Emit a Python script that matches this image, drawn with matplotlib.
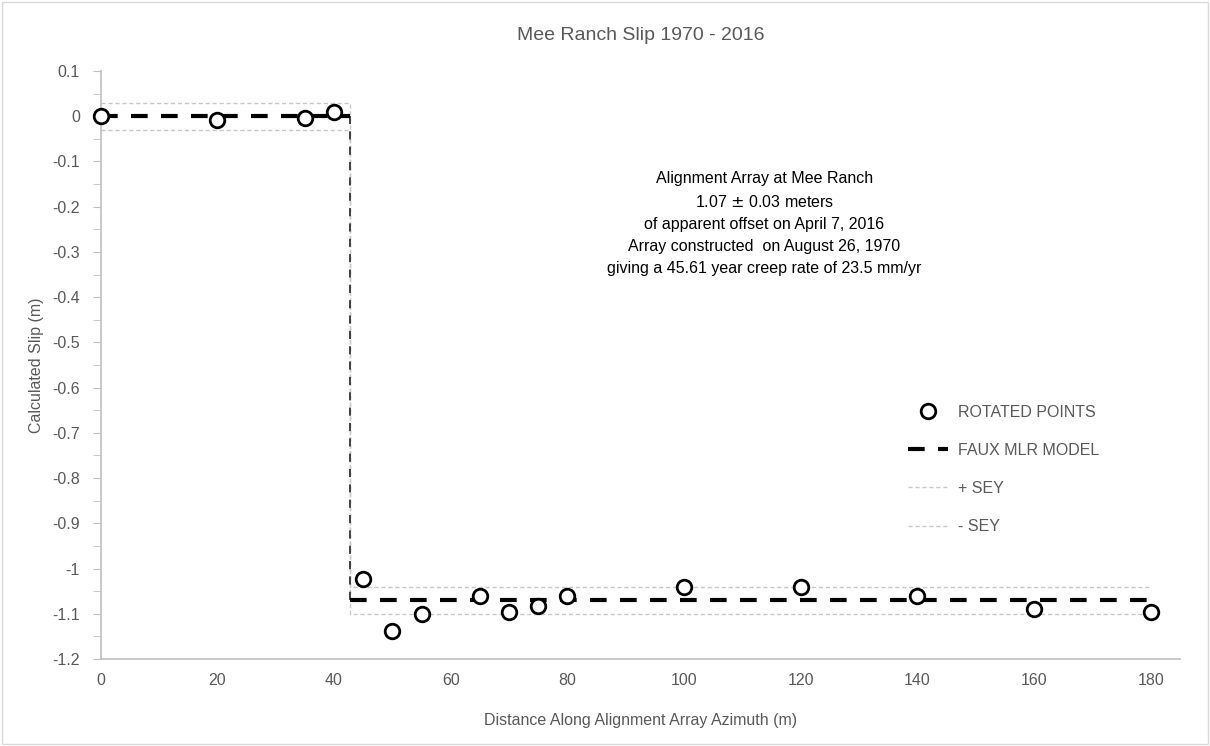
import matplotlib
matplotlib.use("Agg")
import matplotlib.pyplot as plt
from matplotlib.ticker import MultipleLocator, FuncFormatter
from matplotlib.patches import Rectangle

plt.rcParams['font.family'] = ['Liberation Sans Narrow', 'Liberation Sans', 'DejaVu Sans']

# rotated survey points
dist = [0, 20, 35, 40, 45, 50, 55, 65, 70, 75, 80, 100, 120, 140, 160, 180]
slip = [0.0, -0.009, -0.003, 0.009, -1.022, -1.139, -1.10, -1.06, -1.095, -1.082,
        -1.061, -1.04, -1.04, -1.061, -1.09, -1.095]

# faux MLR step model and +/- SEY
step_x = 42.7
offset = -1.07
sey = 0.03
model_x = [0, step_x, step_x, 180]
sey_hi = [sey, sey, offset + sey, offset + sey]
sey_lo = [-sey, -sey, offset - sey, offset - sey]


def fmt(v, p):
    v = round(v, 2)
    if v == 0:
        return '0'
    return '%g' % v


grey = '#595959'
fig = plt.figure(figsize=(12.1, 7.46), dpi=100)
ax = fig.add_axes([0.0832, 0.1166, 0.892, 0.7882])

ax.plot(model_x, sey_hi, color='#c8c8c8', lw=1, ls=(0, (3, 2)), label='+ SEY', zorder=1)
ax.plot(model_x, sey_lo, color='#c8c8c8', lw=1, ls=(0, (3, 2)), label='- SEY', zorder=1)
# vertical part of the step draws thin
ax.plot([step_x, step_x], [0, offset], color='#333333', lw=1.3, ls=(0, (4.5, 4)), zorder=2)
ax.plot([0, step_x], [0, 0], color='black', lw=3, ls=(0, (4, 3.2)), zorder=2)
ax.plot([step_x, 180], [offset, offset], color='black', lw=3, ls=(0, (4, 3.2)),
        label='FAUX MLR MODEL', zorder=2)
ax.plot(dist, slip, 'o', mfc='white', mec='black', ms=10.5, mew=2,
        label='ROTATED POINTS', zorder=3, clip_on=False)

ax.set_xlim(0, 185)
ax.set_ylim(-1.2, 0.1)
ax.xaxis.set_major_locator(MultipleLocator(20))
ax.yaxis.set_major_locator(MultipleLocator(0.1))
ax.yaxis.set_minor_locator(MultipleLocator(0.05))
ax.yaxis.set_major_formatter(FuncFormatter(fmt))
ax.tick_params(axis='x', length=0, pad=10, labelsize=11.5, labelcolor=grey)
ax.tick_params(axis='y', which='both', length=6, color='#bfbfbf', pad=9,
               labelsize=11.5, labelcolor=grey)
for s in ['top', 'right']:
    ax.spines[s].set_visible(False)
for s in ['left', 'bottom']:
    ax.spines[s].set_color('#bfbfbf')
    ax.spines[s].set_linewidth(1.2)

ax.set_title('Mee Ranch Slip 1970 - 2016', fontsize=14, color=grey, pad=22)
ax.set_xlabel('Distance Along Alignment Array Azimuth (m)', fontsize=11.5, color=grey, labelpad=18)
ax.set_ylabel('Calculated Slip (m)', fontsize=11.5, color=grey, labelpad=6)

ax.text(0.615, 0.83, 'Alignment Array at Mee Ranch\n1.07 $\\pm$ 0.03 meters\n'
        'of apparent offset on April 7, 2016\nArray constructed  on August 26, 1970\n'
        'giving a 45.61 year creep rate of 23.5 mm/yr',
        transform=ax.transAxes, ha='center', va='top', fontsize=11.5, linespacing=1.6)

h, l = ax.get_legend_handles_labels()
order = [3, 2, 0, 1]
ax.legend([h[i] for i in order], [l[i] for i in order], loc='upper left',
          bbox_to_anchor=(0.735, 0.457), frameon=False, fontsize=11.5,
          labelcolor=grey, handlelength=2.5, labelspacing=1.45, handletextpad=0.6)

fig.add_artist(Rectangle((0.002, 0.003), 0.996, 0.994, transform=fig.transFigure,
                         fill=False, ec='#d9d9d9', lw=1))
fig.savefig('out.png', dpi=100)
